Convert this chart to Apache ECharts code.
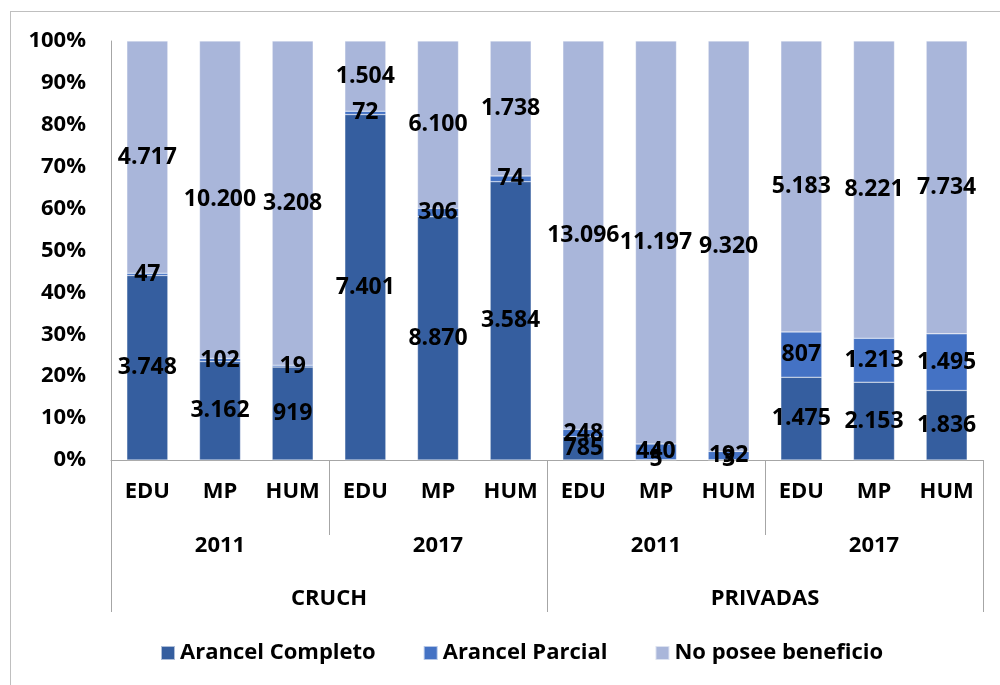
<!DOCTYPE html>
<html>
<head>
<meta charset="utf-8">
<script src="https://cdn.jsdelivr.net/npm/echarts@6/dist/echarts.min.js"></script>
<style>
  body { margin: 0; background: #fff; }
  #main { position: absolute; left: 0; top: 0; width: 1000px; height: 685px; }
  #frame { position: absolute; left: 10px; top: 11px; width: 1000px; height: 700px;
           border: 1px solid #bfbfbf; pointer-events: none; }
</style>
</head>
<body>
<div id="main"></div>
<div id="frame"></div>
<script>
var fields = ['EDU', 'MP', 'HUM', 'EDU', 'MP', 'HUM', 'EDU', 'MP', 'HUM', 'EDU', 'MP', 'HUM'];
var years = ['2011', '2017', '2011', '2017'];
var groups = ['CRUCH', 'PRIVADAS'];

var arancelCompleto = [3748, 3162, 919, 7401, 8870, 3584, 785, 5, 3, 1475, 2153, 1836];
var arancelParcial = [47, 102, 19, 72, 306, 74, 248, 440, 192, 807, 1213, 1495];
var noPosee = [4717, 10200, 3208, 1504, 6100, 1738, 13096, 11197, 9320, 5183, 8221, 7734];

var seriesNames = ['Arancel Completo', 'Arancel Parcial', 'No posee beneficio'];
var seriesCounts = [arancelCompleto, arancelParcial, noPosee];
var colors = ['#355E9F', '#4472C4', '#A9B6DA'];

var font = 'Open Sans';

function fmt(n) {
    return String(n).replace(/\B(?=(\d{3})+(?!\d))/g, '.');
}

var totals = fields.map(function (f, i) {
    return arancelCompleto[i] + arancelParcial[i] + noPosee[i];
});

var series = seriesCounts.map(function (counts, s) {
    return {
        name: seriesNames[s],
        type: 'bar',
        stack: 'total',
        xAxisIndex: 0,
        barWidth: 41,
        itemStyle: { color: colors[s], borderColor: 'rgba(255,255,255,0.6)', borderWidth: 0.5 },
        label: {
            show: true,
            position: 'inside',
            color: '#000',
            fontFamily: font,
            fontWeight: 'bold',
            fontSize: 23,
            formatter: function (p) { return fmt(counts[p.dataIndex]); }
        },
        labelLayout: { hideOverlap: false },
        data: counts.map(function (v, i) { return v / totals[i] * 100; })
    };
});

var myChart = echarts.init(document.getElementById('main'));
myChart.setOption({
    animation: false,
    color: colors,
    grid: { left: 111, right: 17, top: 41, bottom: 225 },
    legend: {
        bottom: 16,
        left: 155,
        icon: 'rect',
        itemWidth: 14,
        itemHeight: 14,
        itemGap: 47,
        textStyle: { color: '#000', fontFamily: font, fontWeight: 'bold', fontSize: 22 },
        data: seriesNames
    },
    yAxis: {
        type: 'value',
        min: 0,
        max: 100,
        interval: 10,
        splitLine: { show: false },
        axisLine: { show: true, lineStyle: { color: '#a6a6a6', width: 1 } },
        axisTick: { show: false },
        axisLabel: {
            margin: 25,
            color: '#000',
            fontFamily: font,
            fontWeight: 'bold',
            fontSize: 22,
            formatter: '{value}%'
        }
    },
    xAxis: [
        {
            type: 'category',
            position: 'bottom',
            data: fields,
            axisLine: { show: true, lineStyle: { color: '#a6a6a6', width: 1 } },
            axisTick: { show: false },
            axisLabel: { margin: 21, color: '#000', fontFamily: font, fontWeight: 'bold', fontSize: 22 }
        },
        {
            type: 'category',
            position: 'bottom',
            data: years,
            axisLine: { show: false },
            axisTick: { show: true, length: 75, lineStyle: { color: '#a6a6a6' } },
            axisLabel: { margin: 75, color: '#000', fontFamily: font, fontWeight: 'bold', fontSize: 22 }
        },
        {
            type: 'category',
            position: 'bottom',
            data: groups,
            axisLine: { show: false },
            axisTick: { show: true, length: 152, lineStyle: { color: '#a6a6a6' } },
            axisLabel: { margin: 128, color: '#000', fontFamily: font, fontWeight: 'bold', fontSize: 22 }
        }
    ],
    series: series
});
</script>
</body>
</html>
